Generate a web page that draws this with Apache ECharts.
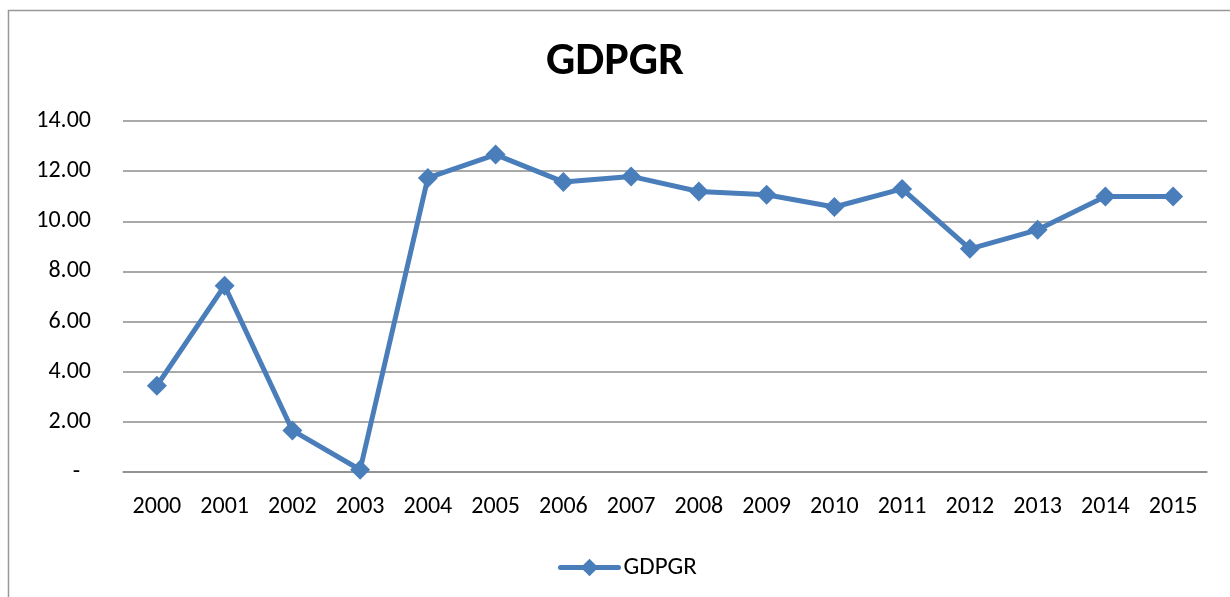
<!DOCTYPE html>
<html>
<head>
<meta charset="utf-8">
<script src="https://cdn.jsdelivr.net/npm/echarts@6/dist/echarts.min.js"></script>
<style>
html, body { margin: 0; padding: 0; background: #fff; }
#chart { width: 1230px; height: 597px; }
</style>
</head>
<body>
<div id="chart"></div>
<script>
// GDP growth rate by year
const years = ['2000','2001','2002','2003','2004','2005','2006','2007',
               '2008','2009','2010','2011','2012','2013','2014','2015'];
const gdpgr = [3.44, 7.43, 1.66, 0.09, 11.73, 12.66, 11.57, 11.79,
               11.19, 11.06, 10.57, 11.29, 8.90, 9.66, 10.99, 10.99];
const yTicks = [0, 2, 4, 6, 8, 10, 12, 14];

const FONT = 'Carlito, Lato, "Open Sans", sans-serif';
const BLUE = '#4a7ebb';
const GRID = '#8c8c8c';

const chart = echarts.init(document.getElementById('chart'));
chart.setOption({
  animation: false,
  backgroundColor: '#fff',
  title: {
    text: 'GDPGR',
    left: 'center',
    top: 34,
    textStyle: { fontFamily: FONT, fontSize: 46, fontWeight: 'bold', color: '#000' }
  },
  graphic: [{
    type: 'rect',
    shape: { x: 8.5, y: 10.5, width: 1240, height: 600 },
    style: { fill: 'none', stroke: '#999', lineWidth: 1.5 },
    silent: true
  }],
  legend: {
    data: ['GDPGR'],
    left: 553,
    top: 550,
    itemWidth: 58,
    itemHeight: 22,
    itemGap: 4,
    lineStyle: { width: 5, cap: 'round' },
    textStyle: { fontFamily: FONT, fontSize: 25, color: '#000' }
  },
  grid: { left: 123, right: 23, top: 121, bottom: 125, containLabel: false },
  xAxis: {
    type: 'category',
    data: years,
    boundaryGap: true,
    axisLine: { show: true, lineStyle: { color: GRID, width: 1.5 } },
    axisTick: { show: false },
    axisLabel: { fontFamily: FONT, fontSize: 24, color: '#000', margin: 23 }
  },
  yAxis: {
    type: 'value',
    min: yTicks[0],
    max: yTicks[yTicks.length - 1],
    interval: 2,
    axisLine: { show: false },
    axisTick: { show: false },
    splitLine: { lineStyle: { color: GRID, width: 1.5 } },
    axisLabel: {
      fontFamily: FONT, fontSize: 24, color: '#000', margin: 32,
      formatter: v => v === 0 ? '-  ' : v.toFixed(2)
    }
  },
  series: [{
    name: 'GDPGR',
    type: 'line',
    data: gdpgr,
    symbol: 'diamond',
    symbolSize: 20,
    lineStyle: { color: BLUE, width: 5 },
    itemStyle: { color: BLUE }
  }]
});
</script>
</body>
</html>
